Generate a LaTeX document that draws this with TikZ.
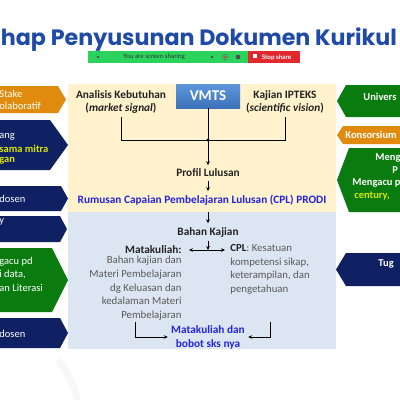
\documentclass[tikz,border=0pt]{standalone}
\usepackage{fontspec}
\setmainfont{Carlito}
\newfontfamily\titlefont{Poppins}
\newfontfamily\barfont{Lato}
\usetikzlibrary{arrows.meta,positioning}

\definecolor{titleblue}{HTML}{1F4AA8}
\definecolor{navy}{HTML}{0F2163}
\definecolor{sideorange}{HTML}{E08A0E}
\definecolor{sidegreen}{HTML}{0A7B0F}
\definecolor{yellowtxt}{HTML}{DCE600}
\definecolor{cream}{HTML}{FFF2CC}
\definecolor{paleblue}{HTML}{DCE6F2}
\definecolor{linkblue}{HTML}{2323E0}
\definecolor{txtdark}{HTML}{222222}
\definecolor{descgray}{HTML}{595959}
\definecolor{sharegreen}{HTML}{2BD35C}
\definecolor{stopred}{HTML}{E0282E}
\definecolor{vmtstop}{HTML}{5E97DC}
\definecolor{vmtsbot}{HTML}{3C71B8}

\tikzset{
  sidetxt/.style={anchor=west, text=white, inner sep=0pt, font=\fontsize{10.5}{12}\selectfont},
  sidebold/.style={sidetxt, font=\bfseries\fontsize{10.5}{12}\selectfont},
  midtxt/.style={align=center, text=txtdark, font=\bfseries\fontsize{11.3}{13}\selectfont},
  desctxt/.style={text=descgray, font=\fontsize{10.8}{13.6}\selectfont},
  bluetxt/.style={align=center, text=linkblue, font=\bfseries\fontsize{11.3}{14}\selectfont},
}

\begin{document}
\begin{tikzpicture}[x=1pt, y=-1pt, >={Stealth[length=4pt,width=3.6pt]}, line width=0.9pt]
  \useasboundingbox[fill=white] (0,0) rectangle (400,400);

  % faint slide decoration
  \draw[gray!6, line width=7pt] (58,360) .. controls (68,372) and (74,386) .. (78,402);

  % title and sharing bar
  \node[anchor=west, inner sep=0pt, text=titleblue, font=\titlefont\bfseries\fontsize{22.2}{26}\selectfont] (judul) at (0.5,40) {hap Penyusunan Dokumen Kurikul};
  \node[anchor=west, fill=sharegreen, minimum width=160pt, minimum height=12pt, inner sep=0pt] (bar) at (88,57) {};
  \node[anchor=west, fill=stopred, minimum width=52pt, minimum height=12pt, inner sep=0pt] (stop) at (248,57) {};
  \node[text=black!80, font=\barfont\fontsize{6.3}{7}\selectfont] (bartxt) at (154,57) {You are screen sharing};
  \node[anchor=west, text=white, font=\barfont\bfseries\fontsize{6.3}{7}\selectfont] (stoptxt) at (258,57.5) {Stop share};
  \fill[white] (252.5,53.5) rectangle (256.5,57.5);
  \fill[black!70] (98,57) circle (1.4);
  \fill[black!70] (212,57) circle (1.4);
  \draw[black!60, line width=0.6pt] (225,57) circle (2.6);
  \fill[stopred] (225,57) circle (1.2);
  \fill[black!70] (238,57) circle (2.3);

  % left side arrows
  \fill[sideorange] (-2,86) -- (58,86) -- (66,99.5) -- (58,113) -- (-2,113) -- cycle;
  \fill[navy] (-2,120) -- (50,120) -- (68,145) -- (50,170) -- (-2,170) -- cycle;
  \fill[navy] (-2,186) -- (61,186) -- (68,198.5) -- (61,211) -- (-2,211) -- cycle;
  \fill[navy] (-2,216) -- (60,216) -- (67,229) -- (60,242) -- (-2,242) -- cycle;
  \fill[sidegreen] (-2,248) -- (52,248) -- (68,280) -- (52,312) -- (-2,312) -- cycle;
  \fill[navy] (-2,318) -- (60,318) -- (68,333) -- (60,348) -- (-2,348) -- cycle;

  \node[sidetxt] (l1a) at (-1,94) {Stake};
  \node[sidetxt] (l1b) at (-1,106) {olaboratif};
  \node[sidetxt] (l2a) at (-1,137) {ang};
  \node[sidebold, text=yellowtxt] (l2b) at (-1,149) {sama mitra};
  \node[sidebold, text=yellowtxt] (l2c) at (-1,161) {gan};
  \node[sidetxt] (l3) at (-1,199) {dosen};
  \node[sidetxt] (l4) at (-1,222) {y};
  \node[sidetxt] (l5a) at (-1,262) {gacu pd};
  \node[sidetxt] (l5b) at (-1,275) {i data,};
  \node[sidetxt] (l5c) at (-1,288) {an Literasi};
  \node[sidetxt] (l6) at (-1,334) {dosen};

  % right side arrows
  \fill[sidegreen] (402,85) -- (346,85) -- (337,101) -- (346,117) -- (402,117) -- cycle;
  \fill[sideorange] (402,126) -- (343,126) -- (337,135) -- (343,144) -- (402,144) -- cycle;
  \fill[sidegreen] (402,148) -- (349,148) -- (337,180) -- (349,212) -- (402,212) -- cycle;
  \fill[navy] (402,253) -- (346,253) -- (336,269.5) -- (346,286) -- (402,286) -- cycle;

  \node[sidebold] (r1) at (363,97) {Univers};
  \node[sidebold] (r2) at (345,135) {Konsorsium};
  \node[sidebold] (r3a) at (375,158) {Meng};
  \node[sidebold] (r3b) at (392,170) {P};
  \node[sidebold] (r3c) at (352,183) {Mengacu p};
  \node[sidebold, text=yellowtxt] (r3d) at (354,196) {century,};
  \node[sidebold] (r4) at (378,264) {Tug};

  % panels
  \node[anchor=north west, fill=cream, minimum width=268pt, minimum height=128pt, inner sep=0pt] (atas) at (68,84) {};
  \node[anchor=north west, fill=paleblue, minimum width=268pt, minimum height=137pt, inner sep=0pt] (bawah) at (68,212) {};

  % upper panel: inputs to the graduate profile
  \node[top color=vmtstop, bottom color=vmtsbot, minimum width=64pt, minimum height=24pt, text=white, font=\bfseries\fontsize{15}{17}\selectfont] (vmts) at (208,96) {VMTS};
  \node[midtxt] (analisis) at (121,101.5) {Analisis Kebutuhan\\(\textit{market signal})};
  \node[midtxt] (ipteks) at (285,101.5) {Kajian IPTEKS\\(\textit{scientific vision})};
  \coordinate (simpul) at (208,140);
  \node[midtxt] (profil) at (208,173) {Profil Lulusan};
  \node[bluetxt] (cplprodi) at (202,200) {Rumusan Capaian Pembelajaran Lulusan (CPL) PRODI};

  \draw (analisis.south) -- (analisis.south |- simpul) -- (ipteks.south |- simpul) -- (ipteks.south);
  \draw[->] (vmts.south) -- (profil.north);
  \fill (simpul) circle (1.7);
  \draw[->] (profil.south) -- (profil.south |- cplprodi.north);

  % lower panel: study materials and courses
  \node[midtxt] (bahan) at (208,232) {Bahan Kajian};
  \node[midtxt, anchor=east, inner sep=1pt] (matk) at (183,250) {Matakuliah:};
  \node[desctxt, align=right, anchor=north east, inner sep=1pt] (matdesc) at (183,255) {Bahan kajian dan\\Materi Pembelajaran\\dg Keluasan dan\\kedalaman Materi\\Pembelajaran};
  \node[desctxt, align=left, anchor=north west, inner sep=1pt] (cpldesc) at (229,243) {{\bfseries\color{txtdark}CPL}: Kesatuan\\kompetensi sikap,\\keterampilan, dan\\pengetahuan};
  \node[bluetxt, inner sep=3pt] (hasil) at (208,337) {Matakuliah dan\\bobot sks nya};

  \draw[->] (bahan.north |- bawah.north) -- (bahan.north);
  \draw[->] (bahan.south) -- (bahan.south |- matk.east);
  \draw[<->] ([xshift=6pt]matk.east) -- ([xshift=-4pt]matk.east -| cpldesc.west);
  \draw[->] (matdesc.south) |- (hasil.west);
  \draw[->] (cpldesc.south |- matdesc.south) |- (hasil.east);
\end{tikzpicture}
\end{document}
